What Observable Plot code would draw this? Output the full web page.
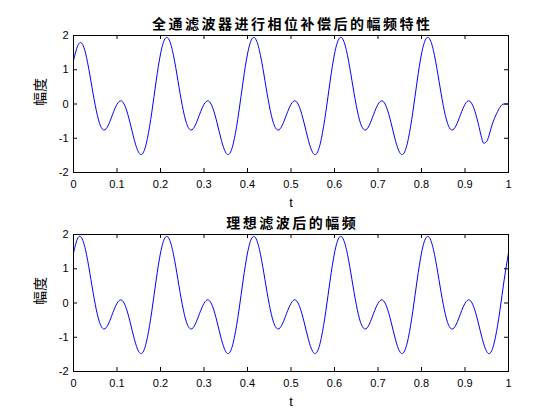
<!DOCTYPE html>
<html><head><meta charset="utf-8">
<script src="https://cdn.jsdelivr.net/npm/d3@7"></script>
<script src="https://cdn.jsdelivr.net/npm/@observablehq/plot@0.6"></script>
<style>
html,body{margin:0;padding:0;background:#fff;}
#fig{position:relative;width:560px;height:420px;overflow:hidden;background:#fff;}
#fig svg{position:absolute;left:0;}
</style></head><body><div id="fig"></div>
<script>
// ---- text ----
const titles = ["全通滤波器进行相位补偿后的幅频特性", "理想滤波后的幅频"];
const xLabel = "t";
const yLabel = "幅度";
const xTicks = [0,0.1,0.2,0.3,0.4,0.5,0.6,0.7,0.8,0.9,1];
const xTickLabels = ["0","0.1","0.2","0.3","0.4","0.5","0.6","0.7","0.8","0.9","1"];
const yTicks = [-2,-1,0,1,2];
const yTickLabels = ["-2","-1","0","1","2"];

// ---- sample times ----
const t = [0,0.01,0.02,0.03,0.04,0.05,0.06,0.07,0.08,0.09,
  0.10,0.11,0.12,0.13,0.14,0.15,0.16,0.17,0.18,0.19,
  0.20,0.21,0.22,0.23,0.24,0.25,0.26,0.27,0.28,0.29,
  0.30,0.31,0.32,0.33,0.34,0.35,0.36,0.37,0.38,0.39,
  0.40,0.41,0.42,0.43,0.44,0.45,0.46,0.47,0.48,0.49,
  0.50,0.51,0.52,0.53,0.54,0.55,0.56,0.57,0.58,0.59,
  0.60,0.61,0.62,0.63,0.64,0.65,0.66,0.67,0.68,0.69,
  0.70,0.71,0.72,0.73,0.74,0.75,0.76,0.77,0.78,0.79,
  0.80,0.81,0.82,0.83,0.84,0.85,0.86,0.87,0.88,0.89,
  0.90,0.91,0.92,0.93,0.94,0.95,0.96,0.97,0.98,0.99,1.00];

// ---- ideal filter output (bottom), one value per t ----
const idealY = [
  1.46,1.90,1.87,1.41,0.69,-0.04,-0.57,-0.76,-0.62,-0.30,-0.01,0.09,-0.11,-0.55,-1.06,-1.42,-1.43,-1.00,-0.24,0.67,
  1.46,1.90,1.87,1.41,0.69,-0.04,-0.57,-0.76,-0.62,-0.30,-0.01,0.09,-0.11,-0.55,-1.06,-1.42,-1.43,-1.00,-0.24,0.67,
  1.46,1.90,1.87,1.41,0.69,-0.04,-0.57,-0.76,-0.62,-0.30,-0.01,0.09,-0.11,-0.55,-1.06,-1.42,-1.43,-1.00,-0.24,0.67,
  1.46,1.90,1.87,1.41,0.69,-0.04,-0.57,-0.76,-0.62,-0.30,-0.01,0.09,-0.11,-0.55,-1.06,-1.42,-1.43,-1.00,-0.24,0.67,
  1.46,1.90,1.87,1.41,0.69,-0.04,-0.57,-0.76,-0.62,-0.30,-0.01,0.09,-0.11,-0.55,-1.06,-1.42,-1.43,-1.00,-0.24,0.67,
  1.46];

// ---- all-pass compensated output (top), t = 0 .. 0.93 ----
const compY = [
  1.27,1.71,1.76,1.36,0.67,-0.04,-0.57,-0.76,-0.62,-0.30,-0.01,0.09,-0.11,-0.55,-1.06,-1.42,-1.43,-1.00,-0.24,0.67,
  1.46,1.90,1.87,1.41,0.69,-0.04,-0.57,-0.76,-0.62,-0.30,-0.01,0.09,-0.11,-0.55,-1.06,-1.42,-1.43,-1.00,-0.24,0.67,
  1.46,1.90,1.87,1.41,0.69,-0.04,-0.57,-0.76,-0.62,-0.30,-0.01,0.09,-0.11,-0.55,-1.06,-1.42,-1.43,-1.00,-0.24,0.67,
  1.46,1.90,1.87,1.41,0.69,-0.04,-0.57,-0.76,-0.62,-0.30,-0.01,0.09,-0.11,-0.55,-1.06,-1.42,-1.43,-1.00,-0.24,0.67,
  1.46,1.90,1.87,1.41,0.69,-0.04,-0.57,-0.76,-0.62,-0.30,-0.01,0.09,-0.11,-0.55];
// tail of the compensated output
const compTailT = [0.94,0.945,0.95,0.955,0.96,0.965,0.97,0.975,0.98,0.985,0.99,1.00];
const compTailY = [-1.07,-1.14,-1.09,-0.93,-0.70,-0.51,-0.35,-0.22,-0.10,-0.02,0.00,0.00];

const idealRows = t.map((x, i) => ({t: x, v: idealY[i]}));
const compRows = compY.map((v, i) => ({t: t[i], v}))
  .concat(compTailT.map((x, i) => ({t: x, v: compTailY[i]})));

const CJK = "'Noto Sans CJK SC', 'Noto Sans', sans-serif";
const LAT = "'Liberation Sans', Arial, Helvetica, sans-serif";

function panel(rows, title, top, height, mt, mb) {
  const W = 560, ml = 73, mr = 52;
  const fw = W - ml - mr, fh = height - mt - mb;
  const tk = 4;
  const svg = Plot.plot({
    width: W, height, marginLeft: ml, marginRight: mr, marginTop: mt, marginBottom: mb,
    style: {fontFamily: LAT, fontSize: "11px", background: "transparent", color: "black"},
    x: {domain: [0, 1]},
    y: {domain: [-2, 2]},
    marks: [
      Plot.line(rows, {x: "t", y: "v", stroke: "#0000ff", strokeWidth: 1, curve: "natural"}),
      Plot.frame({stroke: "black"}),
      Plot.tickX(xTicks, {x: d => d, insetTop: fh - tk, stroke: "black"}),
      Plot.tickX(xTicks, {x: d => d, insetBottom: fh - tk, stroke: "black"}),
      Plot.tickY(yTicks, {y: d => d, insetRight: fw - tk, stroke: "black"}),
      Plot.tickY(yTicks, {y: d => d, insetLeft: fw - tk, stroke: "black"}),
      Plot.axisX(xTicks, {tickSize: 0, tickPadding: 8, tickFormat: d => xTickLabels[xTicks.indexOf(d)], label: null}),
      Plot.axisY(yTicks, {tickSize: 0, tickPadding: 5, tickFormat: d => yTickLabels[yTicks.indexOf(d)], label: null}),
      Plot.text([xLabel], {text: d => d, frameAnchor: "bottom", dy: 25, lineAnchor: "top", fontSize: 13, fontFamily: LAT}),
      Plot.text([yLabel], {text: d => d, frameAnchor: "left", dx: -33, dy: 2, rotate: -90, fontSize: 14, fontFamily: CJK}),
      Plot.text([title], {text: d => d, frameAnchor: "top", dy: -16, dx: 1.2, fontSize: 14, fontWeight: "bold", fontFamily: CJK})
    ]
  });
  svg.querySelectorAll("text").forEach(el => {
    if (el.textContent === title) el.setAttribute("letter-spacing", "2.5");
  });
  svg.style.top = top + "px";
  svg.style.overflow = "visible";
  return svg;
}

const fig = document.getElementById("fig");
fig.appendChild(panel(compRows, titles[0], 0, 205, 35, 33));
fig.appendChild(panel(idealRows, titles[1], 200, 220, 34, 49));
</script></body></html>
